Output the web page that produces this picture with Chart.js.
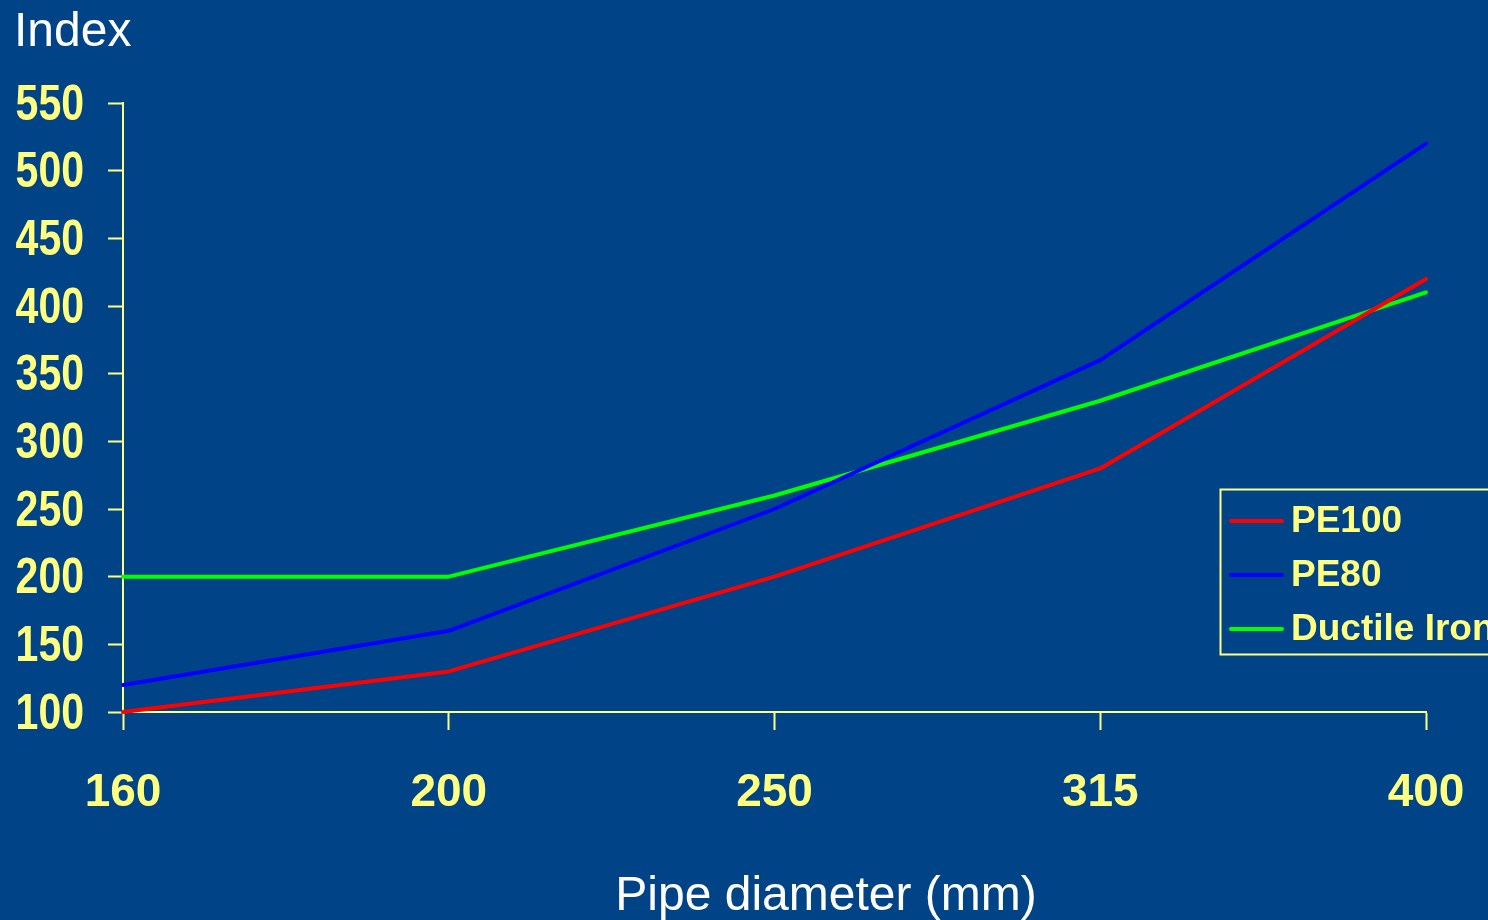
<!DOCTYPE html>
<html>
<head>
<meta charset="utf-8">
<script src="https://cdn.jsdelivr.net/npm/chart.js@4/dist/chart.umd.min.js"></script>
<style>
  html, body { margin: 0; padding: 0; background: #004487; }
  #wrap { width: 1488px; height: 920px; }
</style>
</head>
<body>
<div id="wrap"><canvas id="c" width="1488" height="920"></canvas></div>
<script>
// Pipe diameters (mm) on the category axis
const diameters = ['160', '200', '250', '315', '400'];

// Cost index per diameter for each pipe material
const pe100 = [100, 130, 200, 280, 420];
const pe80 = [120, 160, 250, 360, 520];
const ductileIron = [200, 200, 260, 330, 410];

// Y axis range and step
const yMin = 100;
const yMax = 550;
const yStep = 50;

const seriesNames = ['PE100', 'PE80', 'Ductile Iron'];
const seriesColors = ['#ff0000', '#0000ff', '#00ff00'];

const BG = '#004487';
const YELLOW = '#ffff80';

// Paint the slide-blue background behind everything
const backgroundPlugin = {
  id: 'bg',
  beforeDraw(chart) {
    const { ctx, width, height } = chart;
    ctx.save();
    ctx.fillStyle = BG;
    ctx.fillRect(0, 0, width, height);
    ctx.restore();
  }
};

// Y tick labels in a horizontally condensed bold face, placed on the scale's own ticks
const condensedYLabels = {
  id: 'condensedYLabels',
  afterDraw(chart) {
    const { ctx } = chart;
    const scale = chart.scales.y;
    ctx.save();
    ctx.fillStyle = YELLOW;
    ctx.font = 'bold 50px "Liberation Sans", Arial, sans-serif';
    ctx.textAlign = 'right';
    ctx.textBaseline = 'middle';
    scale.ticks.forEach(t => {
      const y = scale.getPixelForValue(t.value);
      ctx.save();
      ctx.translate(84, y + 3);
      ctx.scale(0.82, 1);
      ctx.fillText(String(t.label), 0, 0);
      ctx.restore();
    });
    ctx.restore();
  }
};

// Axis captions: "Index" at top-left, diameter caption under the x axis
const captionsPlugin = {
  id: 'captions',
  afterDraw(chart) {
    const { ctx } = chart;
    ctx.save();
    ctx.fillStyle = '#ffffff';
    ctx.font = '48px "Liberation Sans", Arial, sans-serif';
    ctx.textBaseline = 'alphabetic';
    ctx.textAlign = 'left';
    ctx.fillText('Index', 14, 46);
    ctx.textAlign = 'center';
    ctx.fillText('Pipe diameter (mm)', 826, 910);
    ctx.restore();
  }
};

// Boxed legend on the right, partly running off the canvas edge
const boxLegendPlugin = {
  id: 'boxLegend',
  afterDraw(chart) {
    const { ctx } = chart;
    const x0 = 1220, y0 = 489, h = 165;
    ctx.save();
    ctx.strokeStyle = YELLOW;
    ctx.lineWidth = 2;
    ctx.strokeRect(x0 + 0.5, y0 + 0.5, 400, h);
    ctx.font = 'bold 37px "Liberation Sans", Arial, sans-serif';
    ctx.textBaseline = 'middle';
    ctx.textAlign = 'left';
    chart.data.datasets.forEach((ds, i) => {
      const y = 521 + i * 54;
      ctx.strokeStyle = ds.borderColor;
      ctx.lineWidth = 4;
      ctx.lineCap = 'round';
      ctx.beginPath();
      ctx.moveTo(1231, y);
      ctx.lineTo(1282, y);
      ctx.stroke();
      ctx.fillStyle = YELLOW;
      ctx.fillText(ds.label, 1291, y + 1);
    });
    ctx.restore();
  }
};

const values = [pe100, pe80, ductileIron];

new Chart(document.getElementById('c'), {
  type: 'line',
  data: {
    labels: diameters,
    datasets: values.map((v, i) => ({
      label: seriesNames[i],
      data: v,
      borderColor: seriesColors[i],
      backgroundColor: seriesColors[i],
      borderWidth: 4,
      pointRadius: 0,
      tension: 0,
      borderCapStyle: 'round',
      borderJoinStyle: 'round',
      clip: 6
    }))
  },
  options: {
    responsive: false,
    animation: false,
    events: [],
    layout: { padding: { left: 0, right: 62, top: 103, bottom: 0 } },
    plugins: {
      legend: { display: false },
      tooltip: { enabled: false },
      title: { display: false }
    },
    scales: {
      x: {
        type: 'category',
        offset: false,
        border: { display: true, color: YELLOW, width: 2 },
        grid: {
          drawOnChartArea: false,
          drawTicks: true,
          tickLength: 18,
          tickWidth: 2,
          tickColor: YELLOW,
          color: YELLOW
        },
        ticks: {
          color: YELLOW,
          font: { family: '"Liberation Sans", Arial, sans-serif', weight: 'bold', size: 46 },
          padding: 36,
          maxRotation: 0,
          autoSkip: false
        },
        afterFit(scale) {
          scale.height = 208;
          scale.paddingLeft = 0;
          scale.paddingRight = 0;
        }
      },
      y: {
        min: yMin,
        max: yMax,
        border: { display: true, color: YELLOW, width: 2 },
        grid: {
          drawOnChartArea: false,
          drawTicks: true,
          tickLength: 15,
          tickWidth: 2,
          tickColor: YELLOW,
          color: YELLOW
        },
        ticks: {
          stepSize: yStep,
          color: 'rgba(0,0,0,0)',
          font: { family: '"Liberation Sans", Arial, sans-serif', weight: 'bold', size: 42 },
          padding: 25
        },
        afterFit(scale) { scale.width = 123; }
      }
    }
  },
  plugins: [backgroundPlugin, condensedYLabels, captionsPlugin, boxLegendPlugin]
});
</script>
</body>
</html>
